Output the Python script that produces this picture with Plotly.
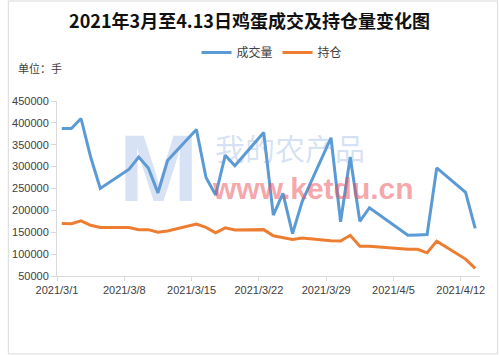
import plotly.graph_objects as go
import pandas as pd

dates = ["2021-03-01", "2021-03-02", "2021-03-03", "2021-03-04", "2021-03-05",
         "2021-03-08", "2021-03-09", "2021-03-10", "2021-03-11", "2021-03-12",
         "2021-03-15", "2021-03-16", "2021-03-17", "2021-03-18", "2021-03-19",
         "2021-03-22", "2021-03-23", "2021-03-24", "2021-03-25", "2021-03-26",
         "2021-03-29", "2021-03-30", "2021-03-31", "2021-04-01", "2021-04-02",
         "2021-04-06", "2021-04-07", "2021-04-08", "2021-04-09", "2021-04-12",
         "2021-04-13"]

volume = [387000, 387000, 410000, 322000, 250000,
          294000, 322000, 297000, 240000, 314000,
          385000, 275000, 235000, 326000, 302000,
          378000, 189000, 239000, 147000, 220000,
          366000, 174000, 322000, 175000, 206000,
          143000, 144000, 145000, 297000, 241000,
          159000]

open_interest = [170000, 169500, 176000, 166000, 161000,
                 161000, 156000, 156000, 150000, 153000,
                 168500, 161000, 148600, 160000, 155000,
                 156000, 141800, 137000, 133500, 137000,
                 130400, 130000, 143000, 118200, 118000,
                 111400, 111000, 103000, 129700, 88700,
                 67300]

tick_dates = ["2021-03-01", "2021-03-08", "2021-03-15", "2021-03-22",
              "2021-03-29", "2021-04-05", "2021-04-12"]
tick_labels = ["2021/3/1", "2021/3/8", "2021/3/15", "2021/3/22",
               "2021/3/29", "2021/4/5", "2021/4/12"]

title_text = "2021年3月至4.13日鸡蛋成交及持仓量变化图"
unit_text = "单位：手"

# points sit in the middle of each day slot (Excel date axis)
x_pos = pd.to_datetime(dates) + pd.Timedelta(hours=12)

FONT = "Liberation Sans, Arial, Noto Sans CJK SC, sans-serif"
CJK = "Noto Sans CJK SC, Liberation Sans, sans-serif"

fig = go.Figure()
fig.add_trace(go.Scatter(x=x_pos, y=volume, mode="lines", name="成交量",
                         line=dict(color="#5B9BD5", width=3)))
fig.add_trace(go.Scatter(x=x_pos, y=open_interest, mode="lines", name="持仓",
                         line=dict(color="#ED7D31", width=3)))

L, R, T, B = 50, 480, 100.7, 276
W, H = 499, 355
pw, ph = R - L, B - T

def px(x):
    return (x - L) / pw

def py(y):
    return (B - y) / ph

fig.update_layout(
    width=W, height=H,
    margin=dict(l=L, r=W - R, t=T, b=H - B),
    paper_bgcolor="white", plot_bgcolor="white",
    font=dict(family=FONT, size=11, color="#404040"),
    title=dict(text="<b>" + title_text + "</b>", x=0.5, xanchor="center",
               y=1 - 21.7 / H, yanchor="middle", yref="container",
               font=dict(family=CJK, size=18, color="#111111")),
    legend=dict(orientation="h", x=272 / W, xanchor="center", xref="container",
                y=1 - 52.5 / H, yanchor="middle", yref="container",
                font=dict(family=CJK, size=12, color="#404040"),
                itemwidth=30, bgcolor="rgba(0,0,0,0)"),
    showlegend=True,
)

fig.update_xaxes(
    type="date",
    range=["2021-03-01", "2021-04-14"],
    tickmode="array",
    tickvals=pd.to_datetime(tick_dates),
    ticktext=tick_labels,
    showgrid=False, zeroline=False,
    showline=True, linecolor="#d9d9d9", linewidth=1,
    ticks="outside", ticklen=4, tickcolor="#d9d9d9",
    tickfont=dict(family=FONT, size=11, color="#404040"),
)
fig.update_yaxes(
    range=[50000, 450000], dtick=50000, tick0=50000,
    tickformat="d",
    showgrid=False, zeroline=False,
    showline=True, linecolor="#d9d9d9", linewidth=1,
    ticks="outside", ticklen=5, tickcolor="#d9d9d9",
    tickfont=dict(family=FONT, size=11, color="#404040"),
)

# unit label
fig.add_annotation(text=unit_text, xref="paper", yref="paper",
                   x=px(8), y=py(68), xanchor="left", yanchor="middle",
                   showarrow=False, font=dict(family=CJK, size=11, color="#404040"))

# watermark
fig.add_annotation(text="<b>M</b>", xref="paper", yref="paper",
                   x=px(153), y=py(168), xanchor="center", yanchor="middle",
                   showarrow=False, font=dict(family=FONT, size=95, color="rgba(110,150,215,0.28)"))
fig.add_annotation(text="我的农产品", xref="paper", yref="paper",
                   x=px(287), y=py(147), xanchor="center", yanchor="middle",
                   showarrow=False, font=dict(family=CJK, size=30, color="rgba(110,150,215,0.28)"))
fig.add_annotation(text="<b>www.ketdu.cn</b>", xref="paper", yref="paper",
                   x=px(310), y=py(188), xanchor="center", yanchor="middle",
                   showarrow=False, font=dict(family=FONT, size=30, color="rgba(235,80,90,0.5)"))

# chart border
fig.add_shape(type="rect", xref="paper", yref="paper",
              x0=px(0.5), x1=px(498), y0=py(354), y1=py(0.5),
              line=dict(color="#d9d9d9", width=1), layer="below")

fig.write_html("out.html")
